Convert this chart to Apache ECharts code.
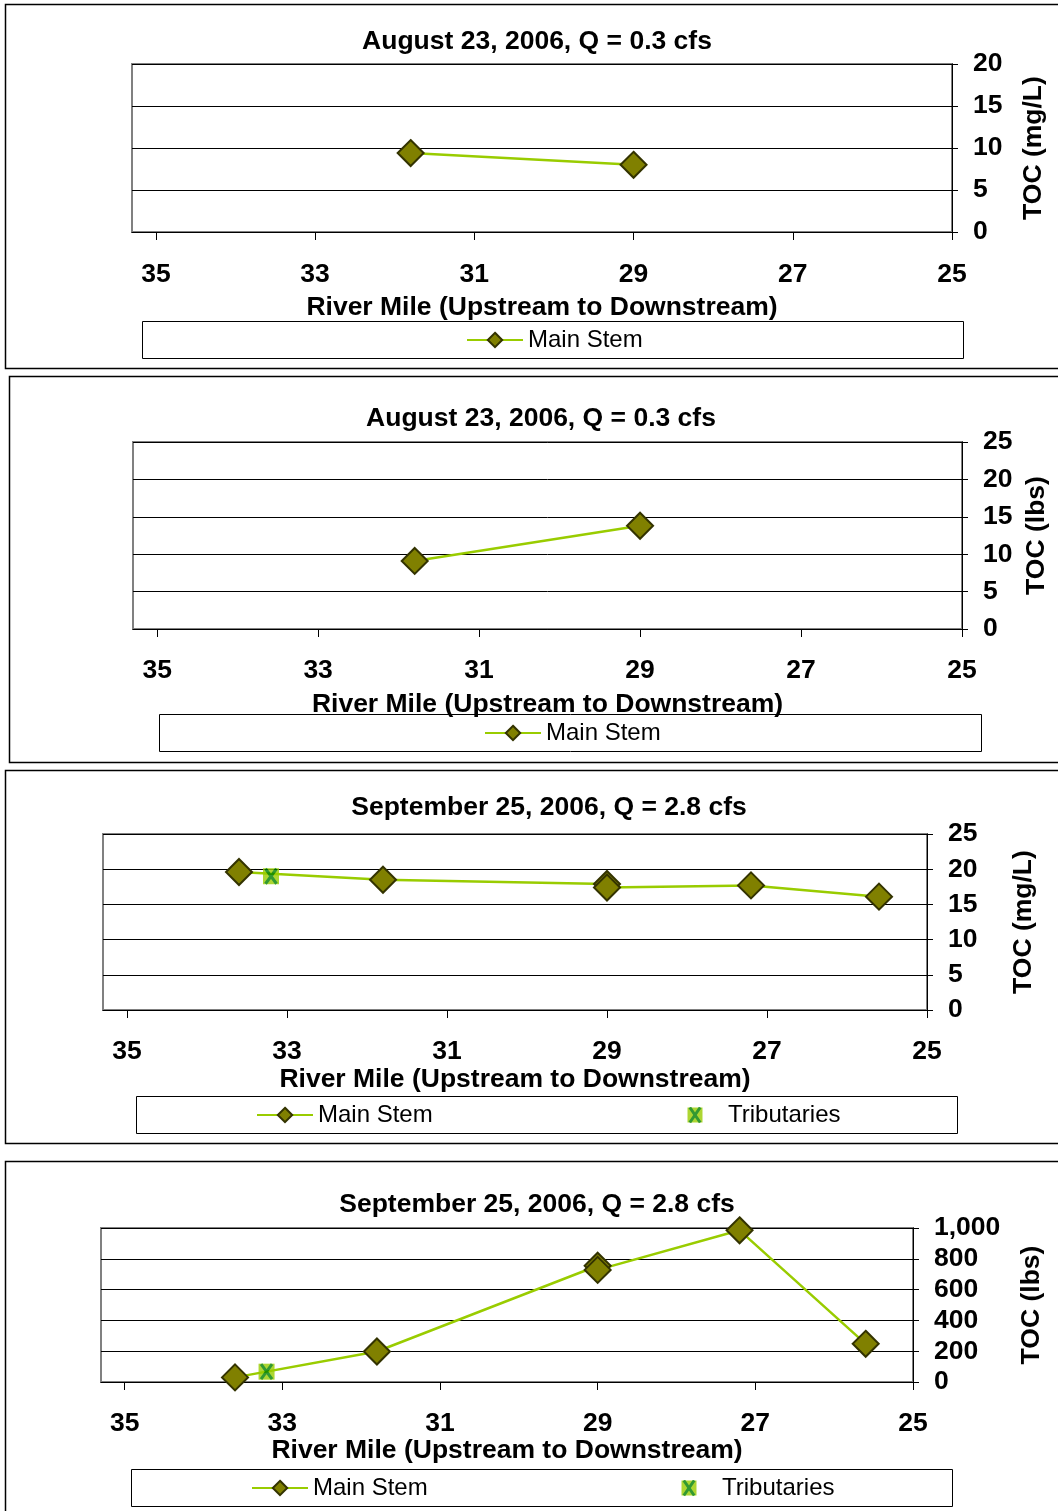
<!DOCTYPE html>
<html>
<head>
<meta charset="utf-8">
<title>TOC along the river, August and September 2006</title>
<script src="https://cdn.jsdelivr.net/npm/echarts@6/dist/echarts.min.js"></script>
<style>
  html, body { margin: 0; padding: 0; background: #fff; }
  #chart { width: 1058px; height: 1511px; }
</style>
</head>
<body>
<div id="chart"></div>
<script>
// River-mile tick labels (axis runs upstream 35 -> downstream 25)
const riverMileTicks = [35, 33, 31, 29, 27, 25];

// Panel titles
const titles = [
  'August 23, 2006, Q = 0.3 cfs',
  'August 23, 2006, Q = 0.3 cfs',
  'September 25, 2006, Q = 2.8 cfs',
  'September 25, 2006, Q = 2.8 cfs'
];
const yNames = ['TOC (mg/L)', 'TOC (lbs)', 'TOC (mg/L)', 'TOC (lbs)'];
const xName = 'River Mile (Upstream to Downstream)';

// [river mile, value]
const aug23ConcMain = [[31.8, 9.4], [29.0, 8.0]];
const aug23LoadMain = [[31.8, 9.1], [29.0, 13.8]];
const sep25ConcMain = [[33.6, 19.6], [31.8, 18.5], [29.0, 17.9], [29.0, 17.4], [27.2, 17.7], [25.6, 16.1]];
const sep25ConcTrib = [[33.2, 19.0]];
const sep25LoadMain = [[33.6, 30], [31.8, 198], [29.0, 755], [29.0, 728], [27.2, 985], [25.6, 248]];
const sep25LoadTrib = [[33.2, 67]];

// y-axis ranges: [max, interval]
const yRanges = [[20, 5], [25, 5], [25, 5], [1000, 200]];

const FONT = 'Arial, "Liberation Sans", Helvetica, sans-serif';
const LIME = '#99CC00';
const OLIVE = '#808000';
const OLIVE_EDGE = '#333300';

// tributary marker: lime square with a green cross
const tribSvg = "<svg xmlns='http://www.w3.org/2000/svg' width='18' height='18' viewBox='0 0 18 18'>" +
  "<rect x='1' y='1' width='16' height='16' fill='#99CC00'/>" +
  "<path d='M3.5 1.5L14.5 16.5M14.5 1.5L3.5 16.5' stroke='#008000' stroke-width='3'/></svg>";
const tribLegendSvg = "<svg xmlns='http://www.w3.org/2000/svg' width='56' height='17' viewBox='0 0 56 17'>" +
  "<rect x='20.5' y='1' width='15' height='15' fill='#99CC00'/>" +
  "<path d='M22.8 1L33.2 16M33.2 1L22.8 16' stroke='#008000' stroke-width='3'/></svg>";
const tribSymbol = 'image://data:image/svg+xml;charset=utf-8,' + encodeURIComponent(tribSvg);
const tribLegendIcon = 'image://data:image/svg+xml;charset=utf-8,' + encodeURIComponent(tribLegendSvg);

// layout of the four panels
const panels = [
  { frame: [5.5, 4.5, 1100, 364],   grid: [132, 64, 820, 168],   titleX: 537, titleTop: 28,
    labelMargin: 29, xNameGap: 62, yNameGap: 68, legendTop: 328, legendBox: [142.5, 321.5, 821, 37],
    mainLeft: 466, tribLeft: null },
  { frame: [9.5, 376.5, 1100, 386], grid: [133, 442, 829, 187],  titleX: 541, titleTop: 405,
    labelMargin: 28, xNameGap: 62, yNameGap: 61, legendTop: 721, legendBox: [159.5, 714.5, 822, 37],
    mainLeft: 484, tribLeft: null },
  { frame: [5.5, 770.5, 1100, 373], grid: [103, 834, 824, 176],  titleX: 549, titleTop: 794,
    labelMargin: 28, xNameGap: 56, yNameGap: 83, legendTop: 1103, legendBox: [136.5, 1096.5, 821, 37],
    mainLeft: 256, tribLeft: 667 },
  { frame: [5.5, 1161.5, 1100, 400], grid: [101, 1228, 812, 154], titleX: 537, titleTop: 1191,
    labelMargin: 28, xNameGap: 55, yNameGap: 105, legendTop: 1476, legendBox: [131.5, 1469.5, 821, 37],
    mainLeft: 251, tribLeft: 661 }
];

const mainData = [aug23ConcMain, aug23LoadMain, sep25ConcMain, sep25LoadMain];
const tribData = [null, null, sep25ConcTrib, sep25LoadTrib];

const boldText = { fontFamily: FONT, fontWeight: 'bold', fontSize: 26.5, color: '#000' };

const option = {
  animation: false,
  backgroundColor: '#fff',
  title: [], grid: [], xAxis: [], yAxis: [], series: [], legend: [],
  graphic: []
};

panels.forEach((p, i) => {
  option.graphic.push({
    type: 'rect', silent: true, z: -10,
    shape: { x: p.frame[0], y: p.frame[1], width: p.frame[2], height: p.frame[3] },
    style: { fill: null, stroke: '#000', lineWidth: 1.5 }
  });
  option.graphic.push({
    type: 'rect', silent: true, z: -10,
    shape: { x: p.legendBox[0], y: p.legendBox[1], width: p.legendBox[2], height: p.legendBox[3] },
    style: { fill: null, stroke: '#000', lineWidth: 1 }
  });

  option.title.push({
    text: titles[i], left: p.titleX, top: p.titleTop, textAlign: 'center', padding: 0,
    textStyle: boldText
  });

  option.grid.push({
    left: p.grid[0], top: p.grid[1], width: p.grid[2], height: p.grid[3],
    show: true, backgroundColor: '#fff', borderColor: '#808080', borderWidth: 2,
    containLabel: false, outerBoundsMode: 'none'
  });

  option.xAxis.push({
    type: 'value', gridIndex: i, inverse: true, min: 25, max: 35.3,
    name: xName, nameLocation: 'middle', nameGap: p.xNameGap, nameTextStyle: boldText,
    nameMoveOverlap: false,
    axisLine: { show: true, onZero: false, lineStyle: { color: '#000', width: 1 } },
    axisTick: { show: true, length: 8, customValues: riverMileTicks, lineStyle: { color: '#000', width: 1 } },
    axisLabel: Object.assign({ show: true, margin: p.labelMargin, customValues: riverMileTicks }, boldText),
    splitLine: { show: false }
  });

  const [yMax, yStep] = yRanges[i];
  option.yAxis.push({
    type: 'value', gridIndex: i, position: 'right', min: 0, max: yMax, interval: yStep,
    name: yNames[i], nameLocation: 'middle', nameRotate: 90, nameGap: p.yNameGap,
    nameTextStyle: boldText, nameMoveOverlap: false,
    axisLine: { show: true, onZero: false, lineStyle: { color: '#000', width: 1 } },
    axisTick: { show: true, length: 6, lineStyle: { color: '#000', width: 1 } },
    axisLabel: Object.assign({
      show: true, margin: 21, padding: [4, 0, 0, 0],
      formatter: v => Number(v).toLocaleString('en-US')
    }, boldText),
    splitLine: { show: true, lineStyle: { color: '#000', width: 1 } }
  });

  option.series.push({
    name: 'Main Stem', type: 'line', xAxisIndex: i, yAxisIndex: i,
    data: mainData[i], symbol: 'diamond', symbolSize: 26, z: 3,
    lineStyle: { color: LIME, width: 2.5 },
    itemStyle: { color: OLIVE, borderColor: OLIVE_EDGE, borderWidth: 2 },
    emphasis: { disabled: true }
  });

  const legendBase = {
    orient: 'horizontal', top: p.legendTop, padding: 0, selectedMode: false,
    itemHeight: 18, itemWidth: 56, itemGap: 0,
    textStyle: { fontFamily: FONT, fontSize: 24, color: '#000', padding: [0, 0, 0, 0] }
  };
  option.legend.push(Object.assign({}, legendBase, { left: p.mainLeft, data: ['Main Stem'] }));

  if (tribData[i]) {
    option.series.push({
      name: 'Tributaries', type: 'scatter', xAxisIndex: i, yAxisIndex: i,
      data: tribData[i], symbol: tribSymbol, symbolSize: 18, z: 4,
      emphasis: { disabled: true }
    });
    option.legend.push(Object.assign({}, legendBase, {
      left: p.tribLeft, itemHeight: 17,
      data: [{ name: 'Tributaries', icon: tribLegendIcon }]
    }));
  }
});

const chart = echarts.init(document.getElementById('chart'), null, { renderer: 'canvas' });
chart.setOption(option);
</script>
</body>
</html>
